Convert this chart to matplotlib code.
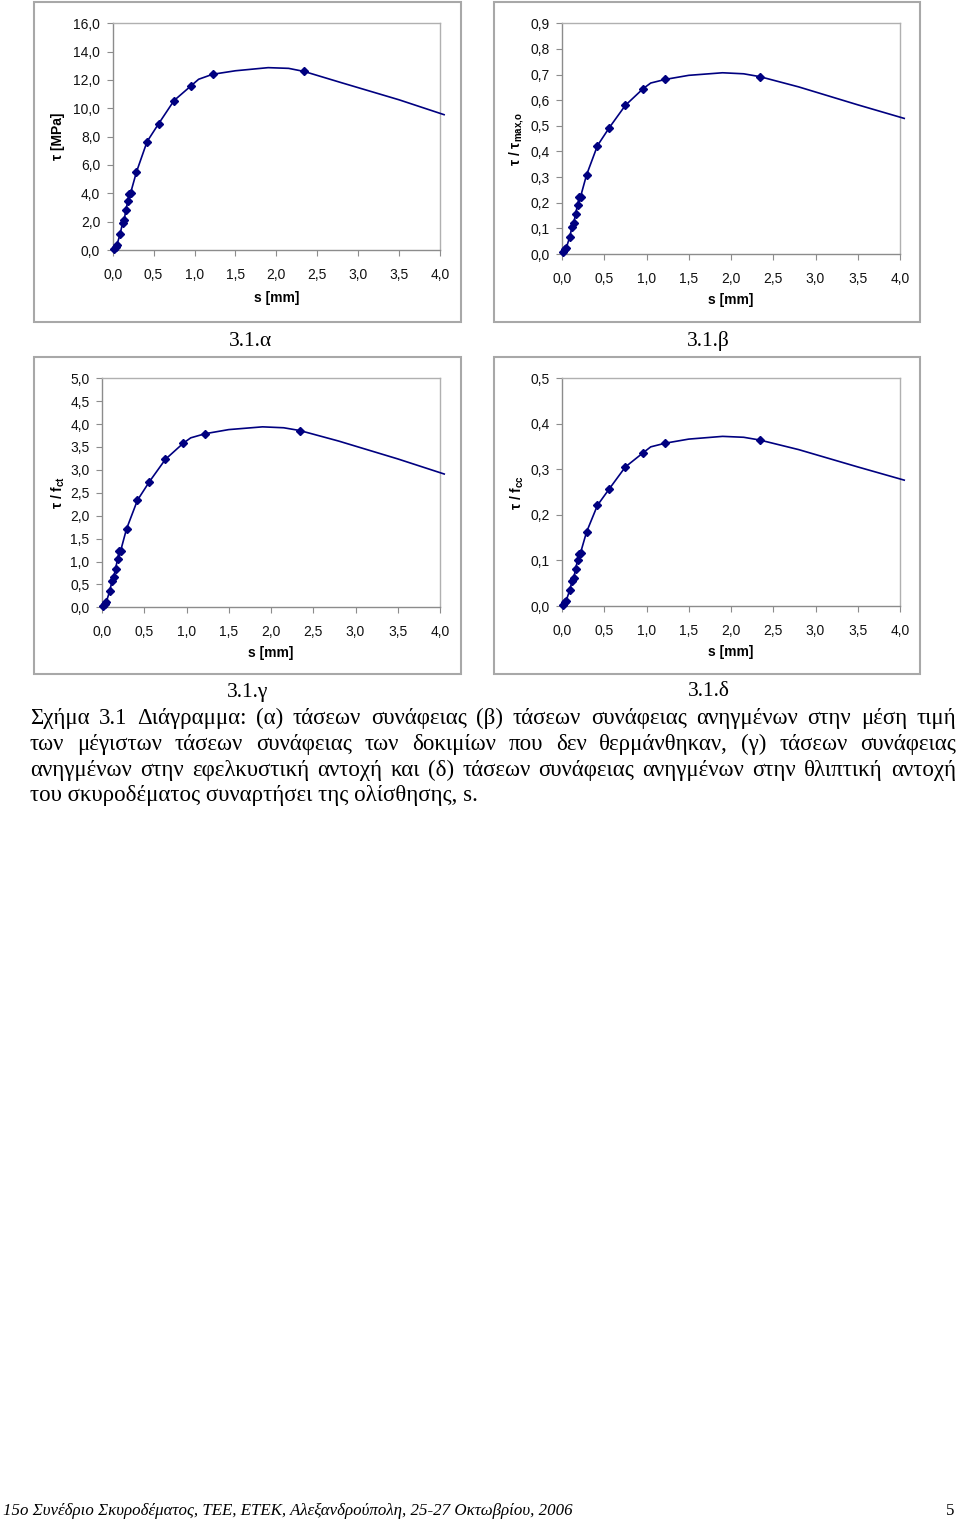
import numpy as np
import matplotlib
matplotlib.use("Agg")
import matplotlib.pyplot as plt
from matplotlib.patches import Rectangle
from matplotlib.ticker import FuncFormatter, MultipleLocator

W, H = 960, 1523

# measured slip values of the marked points [mm]
slip = [0.01, 0.035, 0.05, 0.09, 0.12, 0.14, 0.16, 0.185, 0.205, 0.22,
        0.29, 0.42, 0.56, 0.75, 0.96, 1.22, 2.34]
# unmarked points of the curve beyond the ascending branch
tail_s = [1.05, 1.22, 1.5, 1.9, 2.15, 2.34, 2.8, 3.5, 4.05]

tau_mpa = [0.05, 0.2, 0.35, 1.1, 1.9, 2.1, 2.8, 3.45, 3.95, 4.05,
           5.5, 7.65, 8.9, 10.55, 11.6, 12.4, 12.6]
tau_mpa_tail = [12.05, 12.4, 12.65, 12.87, 12.82, 12.6, 11.8, 10.6, 9.55]

tau_rel = [0.007, 0.018, 0.023, 0.065, 0.107, 0.122, 0.156, 0.193, 0.221, 0.224,
           0.308, 0.423, 0.493, 0.58, 0.645, 0.681, 0.692]
tau_rel_tail = [0.667, 0.681, 0.697, 0.707, 0.703, 0.692, 0.652, 0.582, 0.529]

tau_fct = [0.03, 0.07, 0.11, 0.35, 0.58, 0.67, 0.84, 1.06, 1.22, 1.23,
           1.71, 2.34, 2.74, 3.23, 3.58, 3.79, 3.86]
tau_fct_tail = [3.70, 3.79, 3.88, 3.94, 3.92, 3.86, 3.63, 3.24, 2.91]

tau_fcc = [0.003, 0.008, 0.012, 0.034, 0.055, 0.062, 0.081, 0.101, 0.115, 0.117,
           0.162, 0.221, 0.257, 0.305, 0.336, 0.357, 0.364]
tau_fcc_tail = [0.349, 0.357, 0.366, 0.372, 0.370, 0.364, 0.343, 0.305, 0.276]

ylabels = ["τ [MPa]", "τ / τ$_\\mathregular{max{,}o}$", "τ / f$_\\mathregular{ct}$", "τ / f$_\\mathregular{cc}$"]
ymax = [16, 0.9, 5, 0.5]
ystep = [2, 0.1, 0.5, 0.1]
captions = ["3.1.α", "3.1.β", "3.1.γ", "3.1.δ"]

# pixel layout: plot area (left, top, right, bottom), outer box, label offsets
plot_px = [(112.7, 23.3, 440, 250), (562, 23.3, 900, 254),
           (102, 378.3, 440, 607.3), (562, 378, 900, 606)]
box_px = [(34, 2, 461, 322), (494, 2, 920, 322), (34, 357, 461, 674), (494, 357, 920, 674)]
ylab_x = [58, 517, 58, 517]
xlab_y = [298, 300, 653, 652]
cap_pos = [(250, 341), (708, 341), (248, 692), (709, 692)]

navy = "#000080"
sans = "Liberation Sans"
serif = "Liberation Serif"

fig = plt.figure(figsize=(W / 100, H / 100), dpi=100)
fig.patch.set_facecolor("white")

series = [(tau_mpa, tau_mpa_tail), (tau_rel, tau_rel_tail),
          (tau_fct, tau_fct_tail), (tau_fcc, tau_fcc_tail)]
comma = FuncFormatter(lambda v, p: f"{v:.1f}".replace(".", ","))

for i, (y, y_tail) in enumerate(series):
    l, t, r, b = plot_px[i]
    ax = fig.add_axes([l / W, 1 - b / H, (r - l) / W, (b - t) / H])
    line_s = slip[:15] + tail_s
    line_y = y[:15] + y_tail
    ax.plot(line_s, line_y, color=navy, lw=1.2, clip_on=False, zorder=3)
    ax.plot(slip, y, "D", color=navy, ms=4.5, clip_on=False, zorder=4)
    ax.set_xlim(0, 4)
    ax.set_ylim(0, ymax[i])
    ax.xaxis.set_major_locator(MultipleLocator(0.5))
    ax.yaxis.set_major_locator(MultipleLocator(ystep[i]))
    ax.xaxis.set_major_formatter(comma)
    ax.yaxis.set_major_formatter(comma)
    for side in ["top", "right"]:
        ax.spines[side].set_color("#b0b0b0")
    for side in ["left", "bottom"]:
        ax.spines[side].set_color("#8c8c8c")
    for sp in ax.spines.values():
        sp.set_linewidth(1.0)
    ax.tick_params(axis="both", direction="out", length=4, width=0.8, color="#8c8c8c",
                   labelsize=10, labelcolor="#111111")
    ax.tick_params(axis="y", pad=5)
    ax.tick_params(axis="x", pad=9)
    for lab in ax.get_xticklabels() + ax.get_yticklabels():
        lab.set_family(sans)
    ax.set_xlabel("s [mm]", fontsize=10, fontweight="bold", family=sans)
    ax.xaxis.set_label_coords(0.5, -(xlab_y[i] - b) / (b - t))
    ax.xaxis.label.set_va("center")
    ax.set_ylabel(ylabels[i], fontsize=10, fontweight="bold", family=sans)
    ax.yaxis.set_label_coords(-(l - ylab_x[i]) / (r - l), 0.5)
    ax.yaxis.label.set_va("center")

    bl, bt, br, bb = box_px[i]
    fig.patches.append(Rectangle((bl / W, 1 - bb / H), (br - bl) / W, (bb - bt) / H,
                                 transform=fig.transFigure, fill=False,
                                 edgecolor="#a8a8a8", lw=1.5))
    cx, cy = cap_pos[i]
    fig.text(cx / W, 1 - cy / H, captions[i], fontsize=15.5, family=serif,
             ha="center", va="center")

# justified caption paragraph
para = [
    "Σχήμα 3.1 Διάγραμμα: (α) τάσεων συνάφειας (β) τάσεων συνάφειας ανηγμένων στην μέση τιμή",
    "των μέγιστων τάσεων συνάφειας των δοκιμίων που δεν θερμάνθηκαν, (γ) τάσεων συνάφειας",
    "ανηγμένων στην εφελκυστική αντοχή και (δ) τάσεων συνάφειας ανηγμένων στην θλιπτική αντοχή",
    "του σκυροδέματος συναρτήσει της ολίσθησης, s.",
]
baselines = [724, 750, 776, 801]
x0, x1 = 30, 956
fs_par = 16.5
renderer = fig.canvas.get_renderer()
for k, (txt, yb) in enumerate(zip(para, baselines)):
    if k == len(para) - 1:
        fig.text(x0 / W, 1 - yb / H, txt, fontsize=fs_par, family=serif, va="baseline")
        continue
    words = txt.split(" ")
    objs = [fig.text(0, 1 - yb / H, w, fontsize=fs_par, family=serif, va="baseline") for w in words]
    widths = [o.get_window_extent(renderer).width for o in objs]
    gap = (x1 - x0 - sum(widths)) / (len(words) - 1)
    x = x0
    for o, w in zip(objs, widths):
        o.set_x(x / W)
        x += w + gap

# page footer
fig.text(3 / W, 1 - 1511 / H, "15o Συνέδριο Σκυροδέματος, ΤΕΕ, ΕΤΕΚ, Αλεξανδρούπολη, 25-27 Οκτωβρίου, 2006",
         fontsize=12.2, family=serif, style="italic", va="center")
fig.text(954 / W, 1 - 1511 / H, "5", fontsize=12.2, family=serif, va="center", ha="right")

fig.savefig("out.png", dpi=100)
